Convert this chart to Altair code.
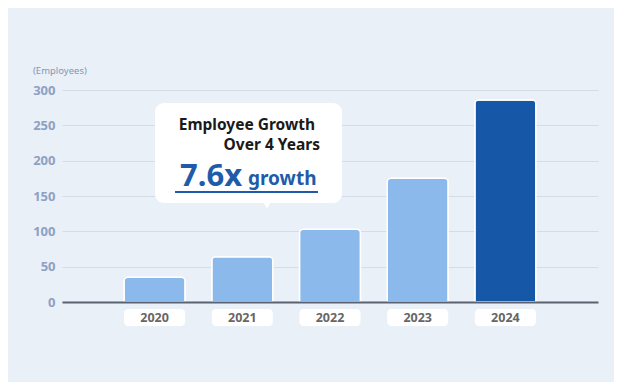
import altair as alt
import pandas as pd

years = ["2020", "2021", "2022", "2023", "2024"]
employees = [35, 64, 103, 175, 286]
highlight_year = "2024"
y_ticks = [0, 50, 100, 150, 200, 250, 300]
unit_label = "(Employees)"
note_line1 = "Employee Growth"
note_line2 = "Over 4 Years"
note_big = "7.6x"
note_small = "growth"

df = pd.DataFrame({"year": years, "value": employees})
one = alt.Data(values=[{"k": 1}])

FONT = "Noto Sans"
LIGHT = "#8bb9ec"
DARK = "#1757a8"
BLUE_TXT = "#1f5ba8"

xscale = alt.Scale(paddingInner=0.304, paddingOuter=0.708)

bars = alt.Chart(df).mark_bar(
    cornerRadiusTopLeft=4, cornerRadiusTopRight=4, stroke="white", strokeWidth=1.5
).encode(
    x=alt.X("year:N", scale=xscale, sort=years,
            axis=alt.Axis(labels=False, ticks=False, title=None, domainColor="#5a6270",
                          domainWidth=2, zindex=1)),
    y=alt.Y("value:Q", scale=alt.Scale(domain=[0, 300], nice=False),
            axis=alt.Axis(values=y_ticks, title=None, domain=False, ticks=False,
                          labelFont=FONT, labelFontSize=13, labelFontWeight="bold",
                          labelColor="#8da1c3", labelPadding=7,
                          gridColor="#d5dce8", gridWidth=1)),
    color=alt.condition(alt.datum.year == highlight_year, alt.value(DARK), alt.value(LIGHT)),
)

boxes = alt.Chart(df).mark_bar(color="white", cornerRadius=4).encode(
    x=alt.X("year:N", scale=xscale, sort=years),
    y=alt.value(219), y2=alt.value(236),
)

year_text = alt.Chart(df).mark_text(
    font=FONT, fontSize=12.5, fontWeight="bold", color="#666666", baseline="middle"
).encode(
    x=alt.X("year:N", scale=xscale, sort=years),
    y=alt.value(228),
    text="year:N",
)

unit = alt.Chart(one).mark_text(
    font=FONT, fontSize=9.5, color="#8296b8", align="left", baseline="middle"
).encode(x=alt.value(-29), y=alt.value(-19), text=alt.value(unit_label))

card = alt.Chart(one).mark_rect(color="white", cornerRadius=9).encode(
    x=alt.value(93), x2=alt.value(280), y=alt.value(13), y2=alt.value(113)
)
pointer = alt.Chart(one).mark_point(
    shape="triangle-down", filled=True, color="white", opacity=1, size=70
).encode(x=alt.value(205), y=alt.value(115))

t1 = alt.Chart(one).mark_text(
    font=FONT, fontSize=15.5, fontWeight="bold", color="#1a1a1a", align="right",
    baseline="alphabetic"
).encode(x=alt.value(253), y=alt.value(40), text=alt.value(note_line1))
t2 = alt.Chart(one).mark_text(
    font=FONT, fontSize=15.5, fontWeight="bold", color="#1a1a1a", align="right",
    baseline="alphabetic"
).encode(x=alt.value(258), y=alt.value(60), text=alt.value(note_line2))
t3 = alt.Chart(one).mark_text(
    font=FONT, fontSize=31, fontWeight="bold", color=BLUE_TXT, align="left",
    baseline="alphabetic"
).encode(x=alt.value(118), y=alt.value(96), text=alt.value(note_big))
t4 = alt.Chart(one).mark_text(
    font=FONT, fontSize=19, fontWeight="bold", color=BLUE_TXT, align="left",
    baseline="alphabetic"
).encode(x=alt.value(186), y=alt.value(95), text=alt.value(note_small))
uline = alt.Chart(one).mark_rule(color=BLUE_TXT, strokeWidth=2).encode(
    x=alt.value(113), x2=alt.value(256), y=alt.value(102)
)

chart = alt.layer(
    bars, boxes, year_text, unit, card, pointer, t1, t2, t3, t4, uline
).properties(
    width=536, height=212,
    autosize=alt.AutoSizeParams(type="none"),
    padding={"left": 54, "top": 82, "right": 16, "bottom": 80},
    background="#eaf0f8",
).configure_view(stroke=None)

chart.save("out.html", embed_options={"renderer": "svg", "actions": False})
